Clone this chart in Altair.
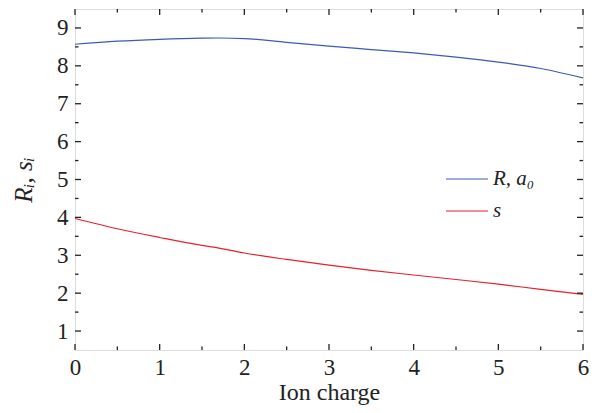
import altair as alt
import pandas as pd

charge = [0, 0.5, 1, 1.5, 1.7, 2, 2.5, 3, 3.5, 4, 4.5, 5, 5.5, 6]
r_vals = [8.57, 8.65, 8.70, 8.73, 8.735, 8.72, 8.62, 8.52, 8.43, 8.34, 8.23, 8.10, 7.93, 7.68]
s_vals = [3.97, 3.70, 3.47, 3.26, 3.19, 3.06, 2.89, 2.74, 2.60, 2.48, 2.36, 2.24, 2.10, 1.97]
series_names = ["R, a\u2080", "s"]
series_colors = ["#3a5bb5", "#e8202a"]

x_major = [0, 1, 2, 3, 4, 5, 6]
x_minor = [0.5, 1.5, 2.5, 3.5, 4.5, 5.5]
y_major = [1, 2, 3, 4, 5, 6, 7, 8, 9]
y_minor = [1.5, 2.5, 3.5, 4.5, 5.5, 6.5, 7.5, 8.5]

W, H = 508, 341
FONT = "Liberation Serif, Times New Roman, serif"

rows = []
for c, r, s in zip(charge, r_vals, s_vals):
    rows.append({"x": c, "y": r, "series": series_names[0]})
    rows.append({"x": c, "y": s, "series": series_names[1]})
df = pd.DataFrame(rows)

xs = alt.Scale(domain=[0, 6], nice=False, zero=False)
ys = alt.Scale(domain=[0.5, 9.5], nice=False, zero=False)

lines = alt.Chart(df).mark_line(strokeWidth=1.2, interpolate="monotone").encode(
    x=alt.X("x:Q", scale=xs, title="Ion charge",
            axis=alt.Axis(values=x_major, format="d", domain=False, ticks=False, labelFont=FONT,
                          labelFontSize=23, labelColor="#222", labelPadding=6,
                          titleFont=FONT, titleFontSize=24, titleFontWeight="normal",
                          titleColor="#222", titlePadding=1, grid=False, labelFlush=False)),
    y=alt.Y("y:Q", scale=ys, title="R\u1d62, s\u1d62",
            axis=alt.Axis(values=y_major, format="d", domain=False, ticks=False, labelFont=FONT,
                          labelFontSize=23, labelColor="#222", labelPadding=7,
                          titleFont=FONT, titleFontSize=25, titleFontWeight="normal",
                          titleFontStyle="italic", titleColor="#222", titlePadding=20,
                          grid=False)),
    color=alt.Color("series:N", scale=alt.Scale(domain=series_names, range=series_colors),
                    legend=alt.Legend(title=None, orient="none", legendX=370, legendY=148,
                                      symbolType="stroke", symbolSize=1764,
                                      symbolStrokeWidth=1.2, labelFont=FONT,
                                      labelFontSize=21, labelFontStyle="italic",
                                      labelColor="#222", labelOffset=4, rowPadding=-6)),
)

def xticks(vals, length):
    d = pd.DataFrame({"v": vals})
    b = alt.Chart(d).mark_rule(color="#222", strokeWidth=1.3).encode(
        x=alt.X("v:Q", scale=xs), y=alt.value(H), y2=alt.value(H - length))
    t = alt.Chart(d).mark_rule(color="#222", strokeWidth=1.3).encode(
        x=alt.X("v:Q", scale=xs), y=alt.value(0), y2=alt.value(length))
    return [b, t]

def yticks(vals, length):
    d = pd.DataFrame({"v": vals})
    l = alt.Chart(d).mark_rule(color="#222", strokeWidth=1.3).encode(
        y=alt.Y("v:Q", scale=ys), x=alt.value(0), x2=alt.value(length))
    r = alt.Chart(d).mark_rule(color="#222", strokeWidth=1.3).encode(
        y=alt.Y("v:Q", scale=ys), x=alt.value(W), x2=alt.value(W - length))
    return [l, r]

layers = [lines] + xticks(x_major, 6) + xticks(x_minor, 3.5) + yticks(y_major, 6) + yticks(y_minor, 3.5)

chart = alt.layer(*layers).properties(
    width=W, height=H,
    autosize=alt.AutoSizeParams(type="none"),
    padding={"left": 67, "top": 1, "right": 9, "bottom": 55},
).configure_view(stroke="#222", strokeWidth=1.6).configure(background="white")

chart.save("out.html", embed_options={"renderer": "svg", "actions": False})
